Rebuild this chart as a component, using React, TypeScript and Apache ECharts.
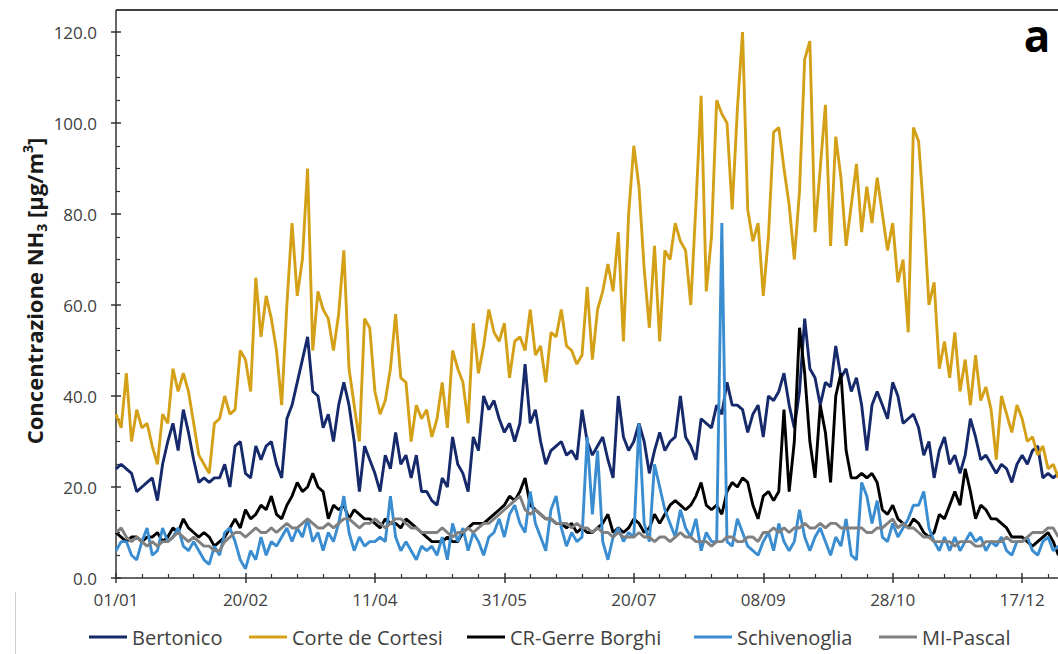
import React, { useEffect, useRef } from "react";
import * as echarts from "echarts";

// Daily NH3 concentrations, one value every 2 days starting 01/01 (day 0)
const dayStep = 2;
const tickLabels = ["01/01", "20/02", "11/04", "31/05", "20/07", "08/09", "28/10", "17/12"];
const seriesNames = ["Bertonico", "Corte de Cortesi", "CR-Gerre Borghi", "Schivenoglia", "MI-Pascal"];

const bertonico = [
  24, 25, 24, 23, 19, 20, 21, 22, 17, 25,
  30, 34, 28, 37, 32, 26, 21, 22, 21, 22,
  22, 25, 20, 29, 30, 23, 22, 29, 26, 29,
  30, 25, 22, 35, 38, 43, 48, 53, 41, 40,
  33, 36, 30, 38, 43, 38, 30, 19, 29, 26,
  23, 19, 27, 24, 32, 25, 27, 22, 27, 19,
  19, 17, 16, 22, 20, 31, 25, 23, 19, 31,
  28, 40, 37, 39, 35, 32, 34, 30, 34, 47,
  34, 37, 30, 25, 28, 29, 30, 27, 28, 26,
  37, 30, 27, 29, 31, 26, 22, 40, 31, 28,
  30, 34, 30, 23, 28, 32, 28, 30, 31, 40,
  31, 29, 26, 35, 34, 33, 38, 36, 43, 38,
  38, 37, 32, 36, 38, 31, 40, 39, 41, 45,
  38, 33, 41, 57, 46, 44, 38, 43, 42, 51,
  44, 46, 41, 44, 38, 28, 38, 41, 38, 35,
  43, 40, 34, 35, 36, 33, 27, 30, 22, 28,
  31, 25, 27, 23, 27, 35, 31, 26, 27, 25,
  23, 25, 24, 21, 25, 27, 25, 28, 29, 22,
  23, 22, 23,
];

const corteDeCortesi = [
  36, 33, 45, 30, 37, 33, 34, 29, 25, 36,
  34, 46, 41, 45, 41, 34, 27, 25, 23, 34,
  35, 40, 36, 37, 50, 48, 41, 66, 53, 62,
  57, 50, 38, 60, 78, 62, 70, 90, 50, 63,
  59, 57, 50, 58, 72, 46, 38, 30, 57, 55,
  41, 36, 39, 46, 58, 44, 43, 30, 38, 35,
  37, 31, 35, 43, 33, 50, 46, 43, 34, 56,
  45, 51, 59, 54, 52, 56, 44, 52, 53, 50,
  59, 49, 51, 43, 54, 53, 59, 51, 50, 47,
  49, 64, 48, 59, 63, 69, 63, 76, 52, 80,
  95, 86, 68, 55, 73, 52, 72, 70, 78, 74,
  72, 60, 82, 106, 63, 75, 105, 102, 100, 81,
  103, 120, 81, 74, 78, 62, 75, 98, 99, 90,
  82, 70, 85, 114, 118, 76, 90, 104, 73, 97,
  88, 73, 82, 91, 76, 86, 78, 88, 80, 72,
  78, 65, 70, 54, 99, 96, 80, 60, 65, 46,
  52, 44, 54, 41, 48, 38, 49, 39, 42, 37,
  26, 40, 36, 32, 38, 35, 30, 31, 27, 29,
  24, 25, 22,
];

const crGerreBorghi = [
  10, 9, 8, 9, 9, 8, 9, 9, 10, 8,
  9, 11, 10, 13, 11, 10, 9, 10, 9, 7,
  8, 9, 11, 13, 11, 15, 13, 14, 16, 15,
  18, 14, 13, 16, 18, 21, 19, 20, 23, 20,
  19, 13, 16, 15, 16, 13, 15, 14, 13, 13,
  12, 11, 13, 12, 12, 11, 13, 12, 11, 10,
  9, 8, 8, 8, 9, 8, 8, 10, 11, 12,
  12, 12, 13, 14, 15, 16, 18, 17, 19, 22,
  16, 15, 14, 13, 13, 12, 12, 11, 12, 10,
  11, 10, 10, 11, 12, 14, 10, 11, 10, 11,
  13, 12, 10, 11, 14, 12, 14, 16, 17, 16,
  15, 16, 18, 21, 16, 15, 16, 14, 19, 21,
  20, 22, 21, 16, 13, 18, 19, 17, 19, 37,
  19, 30, 55, 45, 30, 22, 38, 32, 21, 40,
  45, 28, 22, 22, 23, 22, 23, 21, 15, 14,
  16, 13, 12, 11, 13, 12, 10, 9, 10, 14,
  13, 16, 19, 16, 24, 19, 13, 16, 15, 13,
  13, 12, 11, 9, 9, 9, 8, 7, 8, 9,
  10, 8, 5,
];

const schivenoglia = [
  6, 8, 8, 5, 4, 8, 11, 5, 6, 11,
  8, 9, 11, 7, 6, 8, 6, 4, 3, 7,
  5, 10, 11, 8, 4, 2, 6, 4, 9, 5,
  8, 7, 9, 11, 8, 11, 9, 13, 8, 10,
  6, 10, 8, 12, 18, 10, 6, 9, 7, 8,
  8, 9, 8, 18, 9, 6, 8, 6, 4, 7,
  6, 7, 5, 9, 4, 12, 8, 11, 6, 10,
  8, 5, 9, 10, 13, 9, 14, 16, 12, 10,
  19, 12, 9, 6, 15, 18, 11, 7, 10, 8,
  9, 31, 14, 28, 8, 4, 9, 11, 8, 10,
  9, 34, 12, 8, 25, 20, 15, 12, 9, 15,
  11, 9, 13, 6, 10, 8, 8, 78, 8, 7,
  13, 10, 7, 6, 5, 8, 10, 6, 12, 8,
  6, 8, 15, 9, 6, 9, 11, 8, 5, 9,
  7, 13, 5, 4, 21, 18, 12, 17, 9, 8,
  12, 9, 11, 13, 16, 16, 19, 11, 8, 6,
  9, 6, 9, 6, 8, 10, 8, 9, 6, 8,
  7, 9, 6, 5, 8, 8, 9, 6, 5, 8,
  9, 6, 7,
];

const miPascal = [
  10, 11, 9, 8, 9, 8, 7, 8, 7, 8,
  8, 9, 10, 9, 8, 9, 8, 7, 7, 6,
  6, 8, 9, 10, 10, 9, 10, 11, 10, 10,
  11, 10, 11, 12, 11, 11, 12, 13, 12, 11,
  11, 12, 11, 12, 13, 13, 12, 11, 12, 12,
  13, 12, 11, 12, 13, 13, 12, 11, 11, 10,
  10, 10, 10, 11, 10, 9, 10, 10, 11, 10,
  11, 12, 12, 13, 14, 15, 16, 17, 18, 15,
  14, 15, 14, 13, 13, 12, 12, 12, 11, 12,
  11, 11, 10, 11, 10, 10, 9, 10, 9, 9,
  9, 10, 9, 9, 8, 9, 9, 8, 9, 10,
  9, 9, 8, 8, 8, 7, 8, 8, 9, 9,
  8, 8, 9, 9, 8, 10, 10, 11, 10, 11,
  10, 11, 11, 12, 11, 11, 12, 11, 12, 12,
  11, 11, 11, 11, 11, 10, 10, 11, 11, 12,
  13, 11, 12, 11, 11, 10, 9, 9, 8, 8,
  8, 8, 7, 8, 8, 8, 7, 7, 8, 8,
  8, 8, 9, 8, 8, 8, 9, 10, 10, 10,
  11, 11, 9,
];

const allSeries = [bertonico, corteDeCortesi, crGerreBorghi, schivenoglia, miPascal];
const colors = ["#16296B", "#D4A017", "#000000", "#3A8DD0", "#808080"];
const legendLefts = [89, 249, 467, 694, 879];

const FONT = "'Open Sans', 'Noto Sans', sans-serif";
const AXIS_COLOR = "#333333";
const LABEL_COLOR = "#404040";

export default function App() {
  const ref = useRef<HTMLDivElement>(null);

  useEffect(() => {
    if (!ref.current) return;
    const chart = echarts.init(ref.current, undefined, { renderer: "svg" });

    const series = allSeries.map((vals, i) => ({
      name: seriesNames[i],
      type: "line",
      xAxisIndex: 0,
      yAxisIndex: 0,
      data: vals.map((v, k) => [k * dayStep, v]),
      showSymbol: false,
      symbol: "none",
      lineStyle: { width: 2.9, color: colors[i] },
      itemStyle: { color: colors[i] },
      z: 2 + i,
    }));

    const xBase = {
      type: "value",
      min: 0,
      max: 365,
      interval: 50,
      position: "bottom",
      splitLine: { show: false },
    };
    const yBase = {
      type: "value",
      min: 0,
      max: 120,
      interval: 20,
      position: "left",
      splitLine: { show: false },
    };

    chart.setOption({
      animation: false,
      backgroundColor: "#ffffff",
      grid: { left: 116, right: 9, top: 32, bottom: 76, containLabel: false },
      xAxis: [
        {
          ...xBase,
          axisLine: { show: true, lineStyle: { color: AXIS_COLOR, width: 1.5 } },
          axisTick: { show: true, inside: true, length: 5, lineStyle: { color: AXIS_COLOR, width: 1.5 } },
          minorTick: { show: true, splitNumber: 5, length: 4, lineStyle: { color: AXIS_COLOR, width: 1.2 } },
          axisLabel: {
            show: true,
            margin: 13,
            color: LABEL_COLOR,
            fontSize: 17,
            fontFamily: FONT,
            formatter: (v: number) => tickLabels[Math.round(v / 50)] ?? "",
          },
        },
        {
          ...xBase,
          axisLine: { show: false },
          axisTick: { show: true, inside: false, length: 5, lineStyle: { color: AXIS_COLOR, width: 1.5 } },
          axisLabel: { show: false },
        },
      ],
      yAxis: [
        {
          ...yBase,
          axisLine: { show: true, lineStyle: { color: AXIS_COLOR, width: 1.5 } },
          axisTick: { show: true, inside: true, length: 5, lineStyle: { color: AXIS_COLOR, width: 1.5 } },
          minorTick: { show: true, splitNumber: 4, length: 4, lineStyle: { color: AXIS_COLOR, width: 1.2 } },
          axisLabel: {
            show: true,
            margin: 19,
            color: LABEL_COLOR,
            fontSize: 17,
            fontFamily: FONT,
            formatter: (v: number) => v.toFixed(1),
          },
        },
        {
          ...yBase,
          axisLine: { show: false },
          axisTick: { show: true, inside: false, length: 5, lineStyle: { color: AXIS_COLOR, width: 1.5 } },
          axisLabel: { show: false },
        },
      ],
      legend: seriesNames.map((n, i) => ({
        data: [n],
        left: legendLefts[i],
        top: 627,
        icon: "rect",
        itemWidth: 38,
        itemHeight: 3,
        itemGap: 0,
        padding: 0,
        textStyle: { fontSize: 20, color: LABEL_COLOR, fontFamily: FONT },
      })),
      graphic: [
        {
          type: "line",
          shape: { x1: 116, y1: 10, x2: 1070, y2: 10 },
          style: { stroke: "#404040", lineWidth: 2 },
          silent: true,
        },
        {
          type: "line",
          shape: { x1: 116, y1: 10, x2: 116, y2: 33 },
          style: { stroke: AXIS_COLOR, lineWidth: 1.5 },
          silent: true,
        },
        {
          type: "line",
          shape: { x1: 15.5, y1: 592, x2: 15.5, y2: 654 },
          style: { stroke: "#cccccc", lineWidth: 1 },
          silent: true,
        },
        {
          type: "text",
          x: 1037,
          y: 35,
          style: {
            text: "a",
            fontSize: 44,
            fontWeight: "bold",
            fontFamily: FONT,
            fill: "#000000",
            align: "center",
            verticalAlign: "middle",
          },
        },
        {
          type: "text",
          x: 34,
          y: 291,
          rotation: Math.PI / 2,
          style: {
            text: "{n|Concentrazione NH}{s|3}{n| [µg/m}{p|3}{n|]}",
            align: "center",
            verticalAlign: "middle",
            fill: "#1a1a1a",
            rich: {
              n: { fontSize: 22, fontWeight: "bold", fontFamily: FONT, fill: "#1a1a1a", lineHeight: 28 },
              s: { fontSize: 14, fontWeight: "bold", fontFamily: FONT, fill: "#1a1a1a", lineHeight: 14, verticalAlign: "bottom" },
              p: { fontSize: 14, fontWeight: "bold", fontFamily: FONT, fill: "#1a1a1a", lineHeight: 14, verticalAlign: "top" },
            },
          },
        },
      ],
      series,
    });

    return () => chart.dispose();
  }, []);

  return (
    <div style={{ position: "fixed", left: 0, top: 0, width: 1058, height: 654, overflow: "hidden", background: "#fff" }}>
      <div ref={ref} style={{ width: 1070, height: 654 }} />
    </div>
  );
}
